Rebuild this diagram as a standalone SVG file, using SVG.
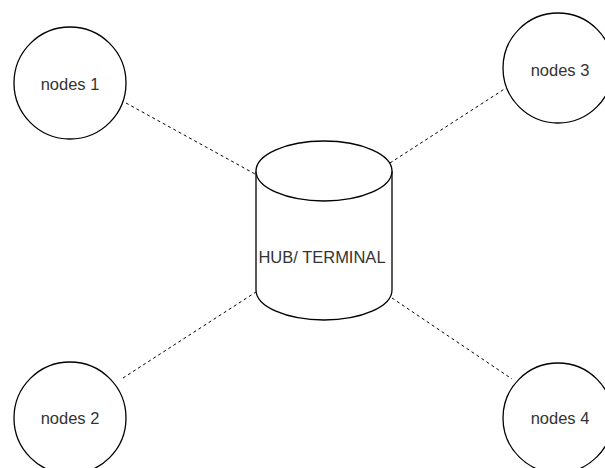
<svg xmlns="http://www.w3.org/2000/svg" width="605" height="468" viewBox="0 0 605 468">
  <style>
    .node { fill: #ffffff; stroke: #000000; stroke-width: 1.3; }
    .label { font-family: "Liberation Sans", Arial, sans-serif; font-size: 16.5px; fill: #333333; text-anchor: middle; dominant-baseline: central; }
    .link { stroke: #000000; stroke-width: 1; stroke-dasharray: 3 3; fill: none; }
  </style>
  <rect width="605" height="468" fill="#ffffff"/>

  <!-- dashed links from each node to the hub -->
  <g id="connectors">
    <line class="link" x1="126" y1="103" x2="255" y2="174"/>
    <line class="link" x1="390" y1="163" x2="506" y2="88"/>
    <line class="link" x1="123" y1="378" x2="256" y2="292"/>
    <line class="link" x1="392" y1="298" x2="512" y2="379"/>
  </g>

  <!-- central hub drawn as a cylinder -->
  <g id="hub">
    <path class="node" d="M256,171 L256,290 A68,30 0 0 0 392,290 L392,171 A68,30 0 0 0 256,171 Z"/>
    <path class="node" d="M256,171 A68,30 0 0 0 392,171" fill="none"/>
    <text class="label" x="322" y="257">HUB/ TERMINAL</text>
  </g>

  <g id="node1">
    <circle class="node" cx="70" cy="83" r="56"/>
    <text class="label" x="70" y="84">nodes 1</text>
  </g>

  <g id="node3">
    <circle class="node" cx="558" cy="68" r="55"/>
    <text class="label" x="560" y="70">nodes 3</text>
  </g>

  <g id="node2">
    <circle class="node" cx="70" cy="418" r="56"/>
    <text class="label" x="70" y="418">nodes 2</text>
  </g>

  <g id="node4">
    <circle class="node" cx="558" cy="418" r="55"/>
    <text class="label" x="560" y="418">nodes 4</text>
  </g>
</svg>
